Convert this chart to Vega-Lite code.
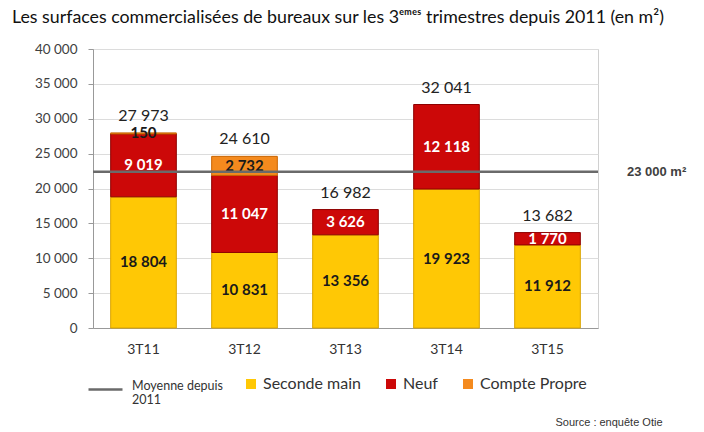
{
  "$schema": "https://vega.github.io/schema/vega-lite/v6.json",
  "autosize": "none",
  "width": 505,
  "height": 279,
  "padding": {"left": 93, "top": 49, "right": 106, "bottom": 104},
  "background": "white",
  "title": {
    "text": "Les surfaces commercialisées de bureaux sur les 3ᵉᵐᵉˢ trimestres depuis 2011 (en m²)",
    "anchor": "start", "frame": "group", "dx": -81, "offset": 15,
    "font": "Lato", "fontSize": 17.8, "fontWeight": "normal", "color": "#111"
  },
  "config": {
    "view": {"stroke": "#d0d0d0"},
    "axisX": {
      "labelAngle": 0, "labelFont": "Lato", "labelFontSize": 14, "labelColor": "#333",
      "labelPadding": 14, "ticks": false, "domainColor": "#999", "grid": false,
      "titleFont": "Liberation Sans", "titleFontSize": 11,
      "titleFontWeight": "normal", "titleColor": "#333", "titleAnchor": "end", "titleAlign": "right",
      "titleX": 569, "titleY": 97, "titleBaseline": "alphabetic"
    },
    "axisY": {
      "labelFont": "Lato", "labelFontSize": 13.5, "labelColor": "#404040",
      "gridColor": "#dcdcdc", "domainColor": "#999", "tickColor": "#999", "tickSize": 5, "labelPadding": 11
    }
  },
  "data": {
    "values": [
      {"cat": "3T11", "type": "Seconde main", "value": 18804},
      {"cat": "3T11", "type": "Neuf", "value": 9019},
      {"cat": "3T11", "type": "Compte Propre", "value": 150},
      {"cat": "3T12", "type": "Seconde main", "value": 10831},
      {"cat": "3T12", "type": "Neuf", "value": 11047},
      {"cat": "3T12", "type": "Compte Propre", "value": 2732},
      {"cat": "3T13", "type": "Seconde main", "value": 13356},
      {"cat": "3T13", "type": "Neuf", "value": 3626},
      {"cat": "3T14", "type": "Seconde main", "value": 19923},
      {"cat": "3T14", "type": "Neuf", "value": 12118},
      {"cat": "3T15", "type": "Seconde main", "value": 11912},
      {"cat": "3T15", "type": "Neuf", "value": 1770}
    ]
  },
  "layer": [
    {
      "transform": [
        {"stack": "value", "groupby": ["cat"], "sort": [{"field": "type", "order": "descending"}], "as": ["v0", "v1"]}
      ],
      "mark": {"type": "bar", "strokeWidth": 1},
      "encoding": {
        "x": {
          "field": "cat", "type": "nominal",
          "scale": {"paddingInner": 0.35, "paddingOuter": 0.175},
          "axis": {"title": "Source : enquête Otie"}
        },
        "y": {
          "field": "v0", "type": "quantitative",
          "scale": {"domain": [0, 40000]},
          "axis": {
            "title": null,
            "values": [0, 5000, 10000, 15000, 20000, 25000, 30000, 35000, 40000], "labelOverlap": false,
            "labelExpr": "replace(format(datum.value, ','), ',', ' ')"
          }
        },
        "y2": {"field": "v1"},
        "color": {
          "field": "type", "type": "nominal",
          "scale": {"domain": ["Seconde main", "Neuf", "Compte Propre"], "range": ["#FFC805", "#CC0808", "#F48A1E"]},
          "legend": {
            "orient": "none", "legendX": 150, "legendY": 327, "direction": "horizontal", "title": null,
            "symbolType": "square", "symbolSize": 100, "symbolStrokeWidth": 0,
            "labelFont": "Lato", "labelFontSize": 16, "labelColor": "#333", "columnPadding": 22, "labelOffset": 4
          }
        },
        "stroke": {
          "field": "type", "type": "nominal",
          "scale": {"domain": ["Seconde main", "Neuf", "Compte Propre"], "range": ["#D9A400", "#8E0000", "#C86400"]},
          "legend": null
        }
      }
    },
    {
      "transform": [
        {"stack": "value", "groupby": ["cat"], "sort": [{"field": "type", "order": "descending"}], "as": ["v0", "v1"]},
        {"calculate": "(datum.v0 + datum.v1) / 2", "as": "mid"},
        {"calculate": "replace(format(datum.value, ','), ',', ' ')", "as": "label"}
      ],
      "mark": {"type": "text", "font": "Lato", "fontSize": 15, "fontWeight": "bold", "baseline": "middle"},
      "encoding": {
        "x": {"field": "cat", "type": "nominal", "axis": null},
        "y": {"field": "mid", "type": "quantitative", "scale": {"domain": [0, 40000]}, "axis": null},
        "text": {"field": "label"},
        "color": {"condition": {"test": "datum.type === 'Neuf'", "value": "#ffffff"}, "value": "#1a1a1a"}
      }
    },
    {
      "transform": [
        {"aggregate": [{"op": "sum", "field": "value", "as": "total"}], "groupby": ["cat"]},
        {"calculate": "replace(format(datum.total, ','), ',', ' ')", "as": "label"}
      ],
      "mark": {"type": "text", "font": "Lato", "fontSize": 16, "baseline": "bottom", "dy": -9, "color": "#222"},
      "encoding": {
        "x": {"field": "cat", "type": "nominal", "axis": null},
        "y": {"field": "total", "type": "quantitative", "scale": {"domain": [0, 40000]}, "axis": null},
        "text": {"field": "label"}
      }
    },
    {
      "data": {"values": [{"serie": "Moyenne depuis 2011", "moyenne": 22400, "label": "23 000 m²"}]},
      "layer": [
        {
          "mark": {"type": "rule", "strokeWidth": 2.5},
          "encoding": {
            "y": {"field": "moyenne", "type": "quantitative", "scale": {"domain": [0, 40000]}, "axis": null},
            "stroke": {
              "field": "serie", "type": "nominal",
              "scale": {"range": ["#6a6a6a"]},
              "legend": {
                "orient": "none", "legendX": -6, "legendY": 322, "title": null,
                "symbolType": "stroke", "symbolSize": 1156, "symbolStrokeWidth": 2.5,
                "labelExpr": "['Moyenne depuis', '2011']", "labelBaseline": "alphabetic",
                "labelFont": "Lato", "labelFontSize": 12.5, "labelColor": "#333", "labelOffset": 8
              }
            }
          }
        },
        {
          "mark": {"type": "text", "align": "left", "baseline": "middle", "dx": 29, "font": "Liberation Sans", "fontSize": 13, "fontWeight": "bold", "color": "#404040"},
          "encoding": {
            "x": {"value": "width"},
            "y": {"field": "moyenne", "type": "quantitative", "scale": {"domain": [0, 40000]}, "axis": null},
            "text": {"field": "label"}
          }
        }
      ],
      "resolve": {"axis": {"y": "independent"}}
    }
  ],
  "resolve": {"scale": {"stroke": "independent"}, "axis": {"x": "independent", "y": "independent"}}
}
